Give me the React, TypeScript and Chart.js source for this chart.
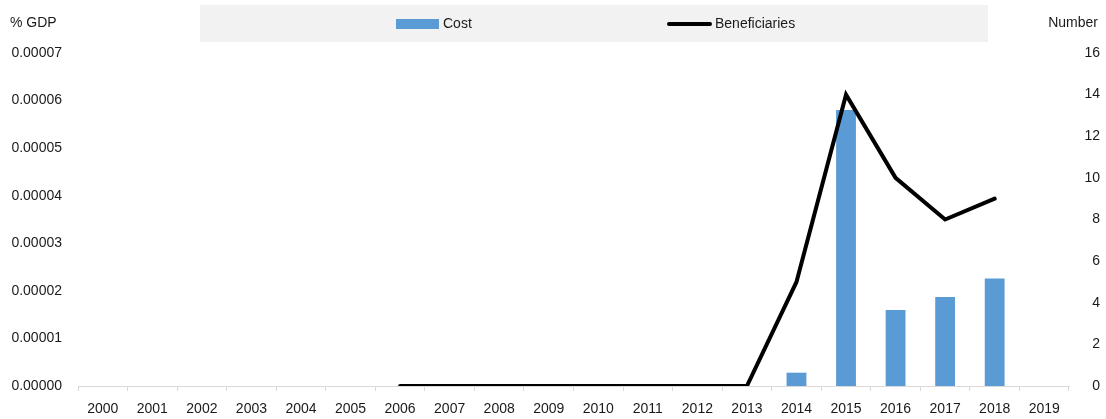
import React, { useEffect, useRef } from "react";
import { Chart, registerables } from "chart.js";

Chart.register(...registerables);

const years = [
  "2000", "2001", "2002", "2003", "2004", "2005", "2006", "2007", "2008", "2009",
  "2010", "2011", "2012", "2013", "2014", "2015", "2016", "2017", "2018", "2019",
];

// Cost, % of GDP
const cost: (number | null)[] = [
  null, null, null, null, null, null, null, null, null, null,
  null, null, null, null, 0.0000028, 0.000058, 0.000016, 0.0000187, 0.0000226, null,
];

// Number of beneficiaries
const beneficiaries: (number | null)[] = [
  null, null, null, null, null, null, 0, 0, 0, 0,
  0, 0, 0, 0, 5, 14, 10, 8, 9, null,
];

const FONT = '"Liberation Sans", Arial, sans-serif';
const TEXT = "#1a1a1a";
const BAR = "#5b9bd5";

// Grey legend strip and the two axis captions above the plot
const headerPlugin = {
  id: "header",
  beforeDraw(chart: Chart) {
    const ctx = chart.ctx;
    ctx.save();
    ctx.fillStyle = "#f2f2f2";
    ctx.fillRect(200, 5, 788, 37);

    ctx.font = `14px ${FONT}`;
    ctx.fillStyle = TEXT;
    ctx.textBaseline = "middle";

    ctx.textAlign = "left";
    ctx.fillText("% GDP", 10, 23);
    ctx.textAlign = "right";
    ctx.fillText("Number", 1098, 23);

    const ds = chart.data.datasets;
    // Cost swatch
    ctx.fillStyle = BAR;
    ctx.fillRect(396, 19, 43, 10);
    ctx.fillStyle = TEXT;
    ctx.textAlign = "left";
    ctx.fillText(String(ds[0].label), 443, 24);

    // Beneficiaries line sample
    ctx.strokeStyle = "#000";
    ctx.lineWidth = 4;
    ctx.lineCap = "round";
    ctx.beginPath();
    ctx.moveTo(669, 24);
    ctx.lineTo(710, 24);
    ctx.stroke();
    ctx.fillText(String(ds[1].label), 715, 24);
    ctx.restore();
  },
};

export default function App() {
  const ref = useRef<HTMLCanvasElement>(null);

  useEffect(() => {
    if (!ref.current) return;
    const chart = new Chart(ref.current, {
      type: "bar",
      data: {
        labels: years,
        datasets: [
          {
            type: "bar",
            label: "Cost",
            data: cost,
            backgroundColor: BAR,
            yAxisID: "y",
            barPercentage: 0.4,
            categoryPercentage: 1,
            order: 2,
          },
          {
            type: "line",
            label: "Beneficiaries",
            data: beneficiaries,
            borderColor: "#000",
            borderWidth: 4,
            pointRadius: 0,
            tension: 0,
            spanGaps: false,
            borderCapStyle: "round",
            borderJoinStyle: "miter",
            yAxisID: "y1",
            order: 1,
          },
        ],
      },
      options: {
        animation: false,
        responsive: false,
        maintainAspectRatio: false,
        layout: { padding: { top: 53, right: 6, left: 0, bottom: 0 } },
        plugins: {
          legend: { display: false },
          tooltip: { enabled: false },
        },
        scales: {
          x: {
            offset: true,
            grid: {
              offset: true,
              drawOnChartArea: false,
              drawTicks: true,
              tickLength: 5,
              color: "#d9d9d9",
            },
            border: { color: "#d9d9d9", width: 1 },
            ticks: {
              color: TEXT,
              font: { family: FONT, size: 14 },
              padding: 10,
              maxRotation: 0,
              autoSkip: false,
            },
            afterFit(scale: any) {
              scale.height = 33;
            },
          },
          y: {
            position: "left",
            min: 0,
            max: 0.00007,
            grid: { display: false },
            border: { display: false },
            ticks: {
              stepSize: 0.00001,
              color: TEXT,
              font: { family: FONT, size: 14 },
              padding: 8,
              callback: (v: any) => Number(v).toFixed(5),
            },
            afterFit(scale: any) {
              scale.width = 78;
            },
          },
          y1: {
            position: "right",
            min: 0,
            max: 16,
            grid: { display: false },
            border: { display: false },
            ticks: {
              stepSize: 2,
              color: TEXT,
              font: { family: FONT, size: 14 },
              crossAlign: "far",
            },
            afterFit(scale: any) {
              scale.width = 31;
            },
          },
        },
      },
      plugins: [headerPlugin],
    });
    return () => chart.destroy();
  }, []);

  return (
    <div style={{ position: "fixed", left: 0, top: 0, width: 1106, height: 419, background: "#fff" }}>
      <canvas ref={ref} width={1106} height={419} style={{ width: 1106, height: 419 }} />
    </div>
  );
}
